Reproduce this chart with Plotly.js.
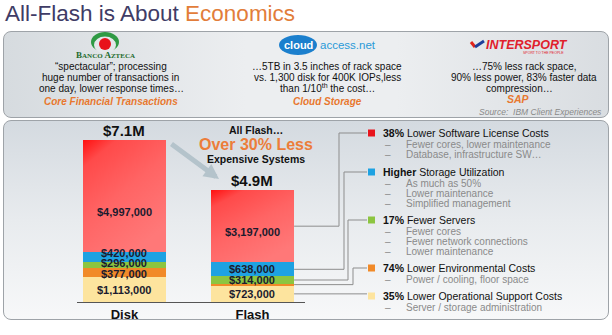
<!DOCTYPE html>
<html><head><meta charset="utf-8">
<script src="https://cdn.plot.ly/plotly-3.0.1.min.js"></script>
<style>
html,body{margin:0;padding:0;background:#fff;}
#wrap{position:relative;width:612px;height:335px;overflow:hidden;}
.panel{position:absolute;box-sizing:border-box;border:1.5px solid #9ea3a8;border-radius:8px;}
#top{left:3px;top:31px;width:606px;height:87px;background:linear-gradient(to right,#d6dbdf 0%,#eceef0 40%,#eceef0 65%,#d9dde1 100%);}
#bot{left:3px;top:120px;width:606px;height:200px;background:linear-gradient(to bottom,#d4dae0 0%,#e8ebee 50%,#f7f8f9 100%);}
#chart{position:absolute;left:0;top:0;width:612px;height:335px;}
</style></head>
<body><div id="wrap"><div class="panel" id="top"></div><div class="panel" id="bot"></div><div id="chart"></div></div>
<script>
// ---------- DATA ----------
const categories = ['Disk', 'Flash'];
const operationalSupport = [1113000, 723000];
const environmental = [377000, 98000];
const servers = [296000, 314000];
const storage = [420000, 638000];
const softwareLicense = [4997000, 3197000];
const totalLabels = ['$7.1M', '$4.9M'];

const benefitHeads = ['<b>38%</b> Lower Software License Costs', '<b>Higher</b> Storage Utilization',
  '<b>17%</b> Fewer Servers', '<b>74%</b> Lower Environmental Costs', '<b>35%</b> Lower Operational Support Costs'];
const benefitSubs = [
  ['Fewer cores, lower maintenance', 'Database, infrastructure SW…'],
  ['As much as 50%', 'Lower maintenance', 'Simplified management'],
  ['Fewer cores', 'Fewer network connections', 'Lower maintenance'],
  ['Power / cooling, floor space'],
  ['Server / storage administration']
];

// ---------- STYLE / GEOMETRY ----------
const W = 612, H = 335;
const FONT = 'Liberation Sans, Arial, sans-serif';
const colors = { red: '#ff6262', blue: '#1ea2e2', green: '#8cc540', orange: '#f18a28', cream: '#fde49e' };
const series = [
  { name: 'Operational Support', values: operationalSupport, color: colors.cream },
  { name: 'Environmental', values: environmental, color: colors.orange },
  { name: 'Servers', values: servers, color: colors.green },
  { name: 'Storage', values: storage, color: colors.blue },
  { name: 'Software License', values: softwareLicense, color: colors.red }
];
const labelShift = [[-1, 0], [-1, 0], [2, 0], [4, 0], [-16, -6]];
const X_DOM = [77 / W, 305 / W];
const Y_DOM = [1 - 302 / H, 1 - 140 / H];
const XR = [-0.37, 1.41];
const BAR_W = 0.65;
const totals = categories.map((c, i) => series.reduce((s, se) => s + se.values[i], 0));
const yMax = Math.max(...totals);

const px = x => x / W;
const py = y => 1 - y / H;
const yToPaper = v => Y_DOM[0] + v / yMax * (Y_DOM[1] - Y_DOM[0]);
const xToPaper = v => X_DOM[0] + (v - XR[0]) / (XR[1] - XR[0]) * (X_DOM[1] - X_DOM[0]);
const fmt = v => '$' + v.toLocaleString('en-US');

const traces = series.map(se => ({
  type: 'bar', x: categories, y: se.values, name: se.name, width: BAR_W,
  marker: { color: se.color, line: { width: 0 } }, hoverinfo: 'skip'
}));

const annotations = [];
const shapes = [];
function txt(text, x, y, size, opts = {}) {
  annotations.push(Object.assign({
    text, x: px(x), y: py(y), xref: 'paper', yref: 'paper', showarrow: false,
    xanchor: 'center', yanchor: 'middle', borderpad: 0, font: { family: FONT, size, color: '#111' }
  }, opts));
}

// segment labels
const cum = categories.map(() => 0);
series.forEach((se, k) => {
  se.values.forEach((v, i) => {
    const mid = cum[i] + v / 2;
    cum[i] += v;
    if (v >= 150000) {
      annotations.push({ x: categories[i], y: mid, xref: 'x', yref: 'y', text: '<b>' + fmt(v) + '</b>',
        showarrow: false, borderpad: 0, yshift: labelShift[k][i], font: { family: FONT, size: 11, color: '#1b1b2e' } });
    }
  });
});
// totals
totals.forEach((t, i) => {
  annotations.push({ x: categories[i], y: t, xref: 'x', yref: 'y', text: '<b>' + totalLabels[i] + '</b>',
    showarrow: false, yanchor: 'bottom', yshift: -1, font: { family: FONT, size: 15, color: '#111' } });
});

// title
txt('All-Flash is About <span style="color:#e27d3a">Economics</span>', 4, 14, 22.5, { xanchor: 'left', font: { family: FONT, size: 22.5, color: '#3f3c66' } });

// headline
txt('<b>All Flash…</b>', 256, 130, 10.5);
txt('<b>Over 30% Less</b>', 256, 145, 16, { font: { family: FONT, size: 16, color: '#ec7d3a' } });
txt('<b>Expensive Systems</b>', 256, 158.5, 10.5);
annotations.push({ x: px(219), y: py(179), xref: 'paper', yref: 'paper', text: '', showarrow: true,
  ax: -49, ay: -36, arrowhead: 2, arrowsize: 0.6, arrowwidth: 5, arrowcolor: '#b4c3cb' });

// benefits list with connectors
const itemY = [133, 172, 220, 268, 296];
const itemColor = [colors.red, colors.blue, colors.green, colors.orange, colors.cream];
const elbowX = [339, 344, 348, 353, null];
const segOrder = [4, 3, 2, 1, 0];
const barRight = xToPaper(1 + BAR_W / 2);
benefitHeads.forEach((h, j) => {
  const y = itemY[j];
  shapes.push({ type: 'rect', xref: 'paper', yref: 'paper', x0: px(368), x1: px(375), y0: py(y + 3.5), y1: py(y - 3.5),
    fillcolor: j === 0 ? '#e8141c' : itemColor[j], line: { width: 0 } });
  txt(h, 382, y, 10.5, { xanchor: 'left' });
  benefitSubs[j].forEach((s, m) => {
    const sy = y + 11 + m * 10.3;
    txt('–', 388, sy, 10, { font: { family: FONT, size: 10, color: '#8a8a8a' } });
    txt(s, 405, sy, 10, { xanchor: 'left', font: { family: FONT, size: 10, color: '#8a8a8a' } });
  });
  // connector from Flash segment
  const k = segOrder[j];
  const below = series.slice(0, k).reduce((s, se) => s + se.values[1], 0);
  const segY = yToPaper(below + series[k].values[1] / 2);
  let path;
  if (elbowX[j] === null) {
    path = `M ${barRight} ${segY} L ${px(367)} ${segY}`;
  } else {
    path = `M ${barRight} ${segY} L ${px(elbowX[j])} ${segY} L ${px(elbowX[j])} ${py(y)} L ${px(367)} ${py(y)}`;
  }
  shapes.push({ type: 'path', xref: 'paper', yref: 'paper', path, line: { color: '#8d8d8d', width: 1 } });
});

// ---- top panel: customer stories ----
function circ(cx, cy, rx, ry, fill) {
  shapes.push({ type: 'circle', xref: 'paper', yref: 'paper', xsizemode: 'pixel', ysizemode: 'pixel',
    xanchor: px(cx), yanchor: py(cy), x0: -rx, x1: rx, y0: -ry, y1: ry, fillcolor: fill, line: { width: 0 } });
}
// Banco Azteca
circ(105, 42, 14, 10, '#2f9a44');
circ(105, 45, 11, 8.5, '#e4e7ea');
circ(105, 44, 6, 6, '#e8111b');
txt('<b>B<span style="font-size:7px">ANCO</span> A<span style="font-size:7px">ZTECA</span></b>', 105, 55, 9,
  { font: { family: 'Liberation Serif, serif', size: 9, color: '#1d6b2c' } });
txt('“spectacular”; processing', 111, 66, 10);
txt('huge number of transactions in', 110, 77, 10);
txt('one day, lower response times…', 112, 88, 10);
txt('<b><i>Core Financial Transactions</i></b>', 111, 101, 10, { font: { family: FONT, size: 10, color: '#e8782f' } });

// cloudaccess.net
circ(298, 45, 19, 10, '#1b7fcd');
txt('<b>cloud</b>', 298, 45, 11, { font: { family: FONT, size: 11, color: '#ffffff' } });
txt('access.net', 319, 45, 11.5, { xanchor: 'left', font: { family: FONT, size: 11.5, color: '#2a9ad8' } });
txt('…5TB in 3.5 inches of rack space', 327, 66, 10);
txt('vs. 1,300 disk for 400K IOPs,less', 327, 77, 10);
txt('than 1/10<sup>th</sup> the cost…', 327, 88, 10);
txt('<b><i>Cloud Storage</i></b>', 327, 101, 10, { font: { family: FONT, size: 10, color: '#e8782f' } });

// Intersport
shapes.push({ type: 'line', xref: 'paper', yref: 'paper', x0: px(471), y0: py(42), x1: px(475), y1: py(47), line: { color: '#e2231a', width: 3 } });
shapes.push({ type: 'line', xref: 'paper', yref: 'paper', x0: px(475), y0: py(47), x1: px(484), y1: py(41), line: { color: '#1f3f99', width: 3 } });
txt('<b><i>INTERSPORT</i></b>', 485, 45, 12.5, { xanchor: 'left', font: { family: FONT, size: 12.5, color: '#e0202b' } });
txt('SPORT TO THE PEOPLE', 565, 53, 3.5, { xanchor: 'right', font: { family: FONT, size: 3.5, color: '#e0202b' } });
txt('…75% less rack space,', 524, 66, 10);
txt('90% less power, 83% faster data', 524, 77, 10);
txt('compression…', 519, 88, 10);
txt('<b><i>SAP</i></b>', 518, 99, 10.5, { font: { family: FONT, size: 10.5, color: '#e8782f' } });
txt('<i>Source:  IBM Client Experiences</i>', 603, 112, 8.5, { xanchor: 'right', font: { family: FONT, size: 8.5, color: '#8a8a8a' } });

const layout = {
  width: W, height: H, margin: { l: 0, r: 0, t: 0, b: 0 },
  paper_bgcolor: 'rgba(0,0,0,0)', plot_bgcolor: 'rgba(0,0,0,0)',
  barmode: 'stack', bargap: 0, showlegend: false,
  xaxis: { domain: X_DOM, range: XR, type: 'category', showgrid: false, zeroline: false, showline: true,
    linecolor: '#555', linewidth: 1, ticks: '', tickfont: { family: FONT, size: 13, color: '#111' },
    tickvals: categories, ticktext: categories.map(c => '<b>' + c + '</b>'), fixedrange: true },
  yaxis: { domain: Y_DOM, range: [0, yMax], visible: false, fixedrange: true },
  annotations, shapes
};

Plotly.newPlot('chart', traces, layout, { displayModeBar: false, staticPlot: true }).then(gd => {
  const svg = gd.querySelector('svg.main-svg');
  const ns = 'http://www.w3.org/2000/svg';
  let defs = svg.querySelector('defs');
  const g = document.createElementNS(ns, 'linearGradient');
  g.setAttribute('id', 'redgrad'); g.setAttribute('x1', '0'); g.setAttribute('y1', '0');
  g.setAttribute('x2', '0.6'); g.setAttribute('y2', '1');
  [['0', '#ff1010'], ['0.18', '#ff4a4a'], ['0.55', '#ff6464'], ['1', '#ff7878']].forEach(([o, c]) => {
    const s = document.createElementNS(ns, 'stop'); s.setAttribute('offset', o); s.setAttribute('stop-color', c); g.appendChild(s);
  });
  defs.appendChild(g);
  const tr = gd.querySelectorAll('.barlayer .trace');
  tr[tr.length - 1].querySelectorAll('path').forEach(p => { p.style.fill = 'url(#redgrad)'; });
});
</script></body></html>
